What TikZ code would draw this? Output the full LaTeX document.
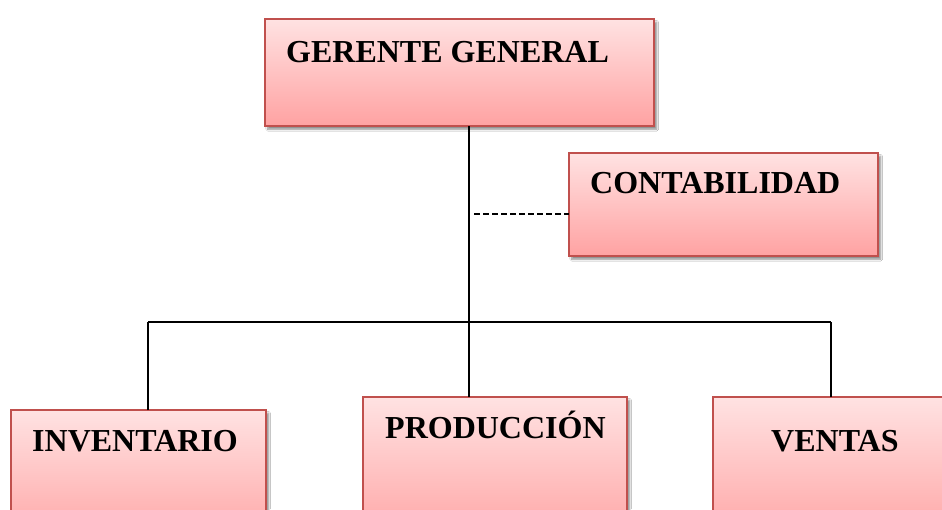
\documentclass[tikz,border=0pt]{standalone}
\usepackage{fontspec}
\setmainfont{Liberation Serif}
\usetikzlibrary{shadows.blur,calc}
\definecolor{boxedge}{HTML}{C0504D}
\definecolor{boxtop}{HTML}{FFE2E2}
\definecolor{boxbot}{HTML}{FFA2A2}
\tikzset{
  orgbox/.style={rectangle, top color=boxtop, bottom color=boxbot,
    inner sep=0pt, anchor=north west,
    blur shadow={shadow xshift=2.5pt, shadow yshift=-3pt, shadow blur steps=6, shadow opacity=45},
    postaction={draw=boxedge, line width=1.8pt}},
  orgtext/.style={anchor=base west, inner sep=0pt, font=\bfseries\fontsize{32}{38}\selectfont},
  link/.style={draw=black, line width=1.7pt},
  dashlink/.style={link, dash pattern=on 6pt off 3pt}
}
\begin{document}
\begin{tikzpicture}[x=1pt,y=-1pt]
\useasboundingbox (0,0) rectangle (942,509);
\clip (0,0) rectangle (942,509);
\fill[white] (0,0) rectangle (942,509);
% boxes
\node[orgbox, minimum width=389pt, minimum height=107pt] (gg) at (265,19) {};
\node[orgbox, minimum width=309pt, minimum height=103pt] (cont) at (569,153) {};
\node[orgbox, minimum width=255pt, minimum height=140pt] (inv) at (11,410) {};
\node[orgbox, minimum width=264pt, minimum height=150pt] (prod) at (363,397) {};
\node[orgbox, minimum width=250pt, minimum height=150pt] (ven) at (713,397) {};
% texts
\node[orgtext] (ggt) at (286,62) {GERENTE GENERAL};
\node[orgtext] (contt) at (590,193) {CONTABILIDAD};
\node[orgtext] (invt) at (32,451) {INVENTARIO};
\node[orgtext] (prodt) at (385,438) {PRODUCCIÓN};
\node[orgtext] (vent) at (771,451) {VENTAS};
% connectors
\coordinate (spine) at (469,322);
\coordinate (hl) at (148,322);
\coordinate (hr) at (831,322);
\coordinate (dstart) at (474,214);
\draw[link] (gg.south -| spine) -- (prod.north -| spine);
\draw[link] (hl) -- (hr);
\draw[link] (inv.north -| hl) -- (hl);
\draw[link] (ven.north -| hr) -- (hr);
\draw[dashlink] (dstart) -- (cont.west |- dstart);
\end{tikzpicture}
\end{document}
